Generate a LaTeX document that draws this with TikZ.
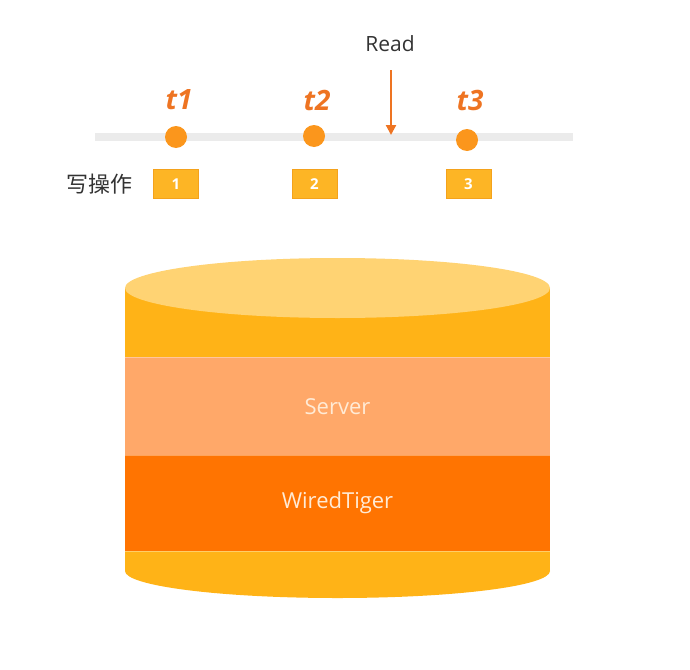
\documentclass[tikz,border=0pt]{standalone}
\usepackage{fontspec}
\setmainfont{Open Sans}
\newfontfamily\cjk{Noto Sans CJK SC}
\usetikzlibrary{arrows.meta}
\definecolor{tlgray}{HTML}{EBEBEB}
\definecolor{dotorange}{HTML}{FB961C}
\definecolor{tlabel}{HTML}{EE7422}
\definecolor{boxfill}{HTML}{FDB525}
\definecolor{boxedge}{HTML}{F4A21C}
\definecolor{cyltop}{HTML}{FFD373}
\definecolor{cylside}{HTML}{FFB317}
\definecolor{srvband}{HTML}{FFA869}
\definecolor{wtband}{HTML}{FF7401}
\definecolor{bandtext}{HTML}{FFEBD6}
\definecolor{darktext}{HTML}{333333}
\tikzset{
  dot/.style={circle,fill=dotorange,minimum size=22pt,inner sep=0pt},
  tlab/.style={font=\fontsize{28}{28}\selectfont\bfseries\itshape,text=tlabel},
  opbox/.style={draw=boxedge,fill=boxfill,minimum width=45pt,minimum height=29pt,inner sep=0pt,text=white,font=\fontsize{15}{15}\selectfont\bfseries},
  bandlab/.style={text=bandtext,font=\fontsize{22}{22}\selectfont},
  readarrow/.style={draw=tlabel,line width=2.2pt,-{Triangle[width=10pt,length=10pt]}}
}
\begin{document}
\begin{tikzpicture}[x=1pt,y=-1pt]
\useasboundingbox (0,0) rectangle (690,669);
% time line
\coordinate (tl0) at (95,137);\coordinate (tl1) at (573,137);
\draw[tlgray,line width=8pt] (tl0)--(tl1);
\foreach \i/\x/\y/\bx in {1/176/137/176,2/314/136/314.5,3/467/140/468.5}{
  \node[dot] (d\i) at (\x,\y) {};
  \node[tlab] (t\i) at (\x+3,100) {t\i};
  \node[opbox] (w\i) at (\bx,184) {\i};
}
\node[text=darktext,font=\cjk\fontsize{22}{22}\selectfont] (ops) at (99,184) {写操作};
\node[text=darktext,font=\fontsize{21}{21}\selectfont] (read) at (390,44) {Read};
\coordinate (rd0) at (391,70);\coordinate (rd1) at (391,135);
\draw[readarrow] (rd0)--(rd1);
% cylinder
\fill[cylside] (337.5,571) ellipse[x radius=212.5,y radius=27];
\fill[cylside] (125,551) rectangle (550,571);
\fill[wtband] (125,455) rectangle (550,551);
\fill[srvband] (125,357) rectangle (550,455);
\fill[cylside] (125,288) rectangle (550,357);
\fill[cyltop] (337.5,288) ellipse[x radius=212.5,y radius=30];
\foreach \yy in {357,455,551}{\draw[white,opacity=.35,line width=1pt] (125,\yy)--(550,\yy);}
\node[bandlab] (srv) at (337.5,407) {Server};
\node[bandlab] (wt) at (337.5,503) {WiredTiger};
\end{tikzpicture}
\end{document}
